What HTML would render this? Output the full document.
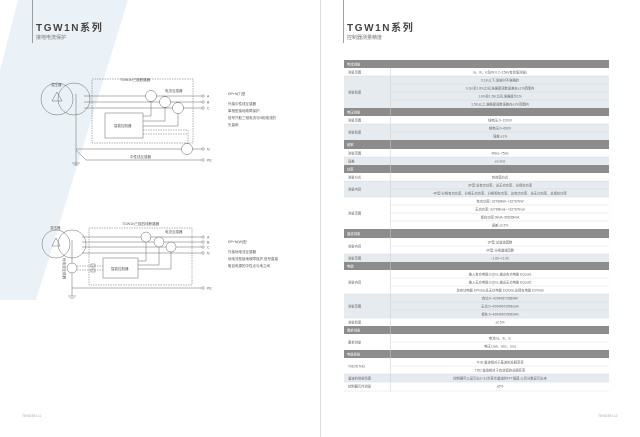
<!DOCTYPE html>
<html><head><meta charset="utf-8"><style>
html,body{margin:0;padding:0;background:#fff}
svg{display:block}
text{font-family:"Liberation Sans","Noto Sans CJK SC",sans-serif}
</style></head><body>
<svg width="640" height="437" viewBox="0 0 640 437" xmlns="http://www.w3.org/2000/svg">
<rect width="640" height="437" fill="#fff"/>
<polygon points="18,0 128,0 36,300 0,300 0,70" fill="#ebf2f7"/>
<line x1="320.5" y1="0" x2="320.5" y2="437" stroke="#ddd" stroke-width="1"/>
<line x1="32.5" y1="0" x2="32.5" y2="43" stroke="#888" stroke-width="0.8"/>
<line x1="343.5" y1="0" x2="343.5" y2="43" stroke="#888" stroke-width="0.8"/>
<text x="36" y="31" font-size="10" font-weight="bold" fill="#444" letter-spacing="1.6">TGW1N系列</text>
<text x="36" y="39" font-size="5" fill="#777">接地电流保护</text>
<text x="347" y="31" font-size="10" font-weight="bold" fill="#444" letter-spacing="1.6">TGW1N系列</text>
<text x="347" y="39" font-size="5" fill="#777">控制器测量精度</text>
<text x="22" y="417" font-size="3.5" fill="#aaa">TENGEN 11</text>
<text x="598" y="417" font-size="3.5" fill="#aaa">TENGEN 12</text>

<g stroke="#666" stroke-width="0.5" fill="none">
<circle cx="57" cy="99" r="16"/><circle cx="74" cy="99" r="16"/>
<polygon points="57,92 52,101 62,101"/>
<line x1="76" y1="94" x2="76" y2="165"/>
<rect x="92" y="79" width="101" height="64" stroke-dasharray="1.5,1"/>
<line x1="84" y1="96" x2="202" y2="96"/><line x1="84" y1="102" x2="202" y2="102"/><line x1="84" y1="108" x2="202" y2="108"/>
<circle cx="151" cy="96" r="5.5" fill="#fff"/><circle cx="165" cy="102" r="5.5" fill="#fff"/><circle cx="178" cy="108" r="5.5" fill="#fff"/>
<rect x="105" y="113" width="38" height="25" fill="#fff"/>
<polyline points="151,101.5 151,116 143,116"/><polyline points="165,107.5 165,121 143,121"/><polyline points="178,113.5 178,126 143,126"/>
<line x1="143" y1="130" x2="188" y2="130" stroke-dasharray="1.5,1"/><line x1="143" y1="134" x2="188" y2="134" stroke-dasharray="1.5,1"/>
<line x1="188" y1="130" x2="188" y2="144" stroke-dasharray="1.5,1"/>
<line x1="76" y1="149" x2="202" y2="149"/>
<circle cx="187" cy="149" r="5.5" fill="#fff"/>
<polyline points="76,150 86,160 202,160"/>
<line x1="72" y1="163" x2="80" y2="163"/><line x1="73.5" y1="165" x2="78.5" y2="165"/>
<circle cx="203" cy="96" r="1.2"/><circle cx="203" cy="102" r="1.2"/><circle cx="203" cy="108" r="1.2"/><circle cx="203" cy="149" r="1.2"/><circle cx="203" cy="160" r="1.2"/>
<circle cx="56" cy="244" r="14"/><circle cx="72" cy="244" r="14"/>
<polygon points="56,238 52,246 60,246"/>
<line x1="72" y1="240" x2="72" y2="296"/>
<rect x="89" y="228" width="103" height="57" stroke-dasharray="1.5,1"/>
<line x1="82" y1="237" x2="202" y2="237"/><line x1="82" y1="242" x2="202" y2="242"/><line x1="82" y1="247" x2="202" y2="247"/><line x1="82" y1="253" x2="202" y2="253"/>
<circle cx="146" cy="237" r="5" fill="#fff"/><circle cx="159" cy="242" r="5" fill="#fff"/><circle cx="171" cy="247" r="5" fill="#fff"/>
<rect x="103" y="258" width="35" height="20" fill="#fff"/>
<polyline points="146,242 146,261 138,261"/><polyline points="159,247 159,265 138,265"/><polyline points="171,252 171,269 138,269"/>
<circle cx="72" cy="268" r="5" fill="#fff"/>
<line x1="77" y1="266" x2="103" y2="266" stroke-dasharray="1.5,1"/><line x1="77" y1="270" x2="103" y2="270" stroke-dasharray="1.5,1"/>
<rect x="91" y="264" width="4" height="3"/><rect x="91" y="269" width="4" height="3"/>
<line x1="72" y1="288" x2="202" y2="288"/>
<line x1="68" y1="296" x2="76" y2="296"/><line x1="69.5" y1="298" x2="74.5" y2="298"/>
<circle cx="203" cy="237" r="1.2"/><circle cx="203" cy="242" r="1.2"/><circle cx="203" cy="247" r="1.2"/><circle cx="203" cy="253" r="1.2"/><circle cx="203" cy="288" r="1.2"/>
</g>
<g font-size="3.5" fill="#555">
<text x="51" y="86">变压器</text><text x="120" y="81">TGW1N三极断路器</text><text x="165" y="92">电流互感器</text>
<text x="114" y="127">智能控制器</text><text x="130" y="158">中性线互感器</text>
<text x="207" y="97.5">A</text><text x="207" y="103.5">B</text><text x="207" y="109.5">C</text><text x="207" y="150.5">N</text><text x="207" y="161.5">PE</text>
<text x="228" y="95">DP+N(T)型</text>
<text x="228" y="105">外接中性线互感器</text><text x="228" y="112">单相型接地故障保护,</text><text x="228" y="119">信号只取三相电流与N相电流的</text><text x="228" y="126">矢量和</text>
<text x="50" y="229">变压器</text><text x="122" y="225">TGW1N三极四线断路器</text><text x="165" y="233">电流互感器</text>
<text x="111" y="270">智能控制器</text>
<text x="207" y="238.5">A</text><text x="207" y="243.5">B</text><text x="207" y="248.5">C</text><text x="207" y="254.5">N</text><text x="207" y="289.5">PE</text>
<text x="228" y="243">DP+N(W)型</text>
<text x="228" y="253">外接地电流互感器</text><text x="228" y="260">地电流型接地故障保护,信号直接</text><text x="228" y="267">取自电源的中性点与地之间</text>
<text x="0" y="0" transform="translate(63,258) rotate(90)">地电流互感器</text>
</g>

<g font-size="3.3" fill="#666">
<g fill="#e6ebf0">
<rect x="344" y="76" width="265" height="32"/><rect x="344" y="124" width="265" height="16"/><rect x="344" y="157" width="265" height="8"/>
<rect x="344" y="181" width="265" height="16"/><rect x="344" y="254" width="265" height="8"/><rect x="344" y="294" width="265" height="24"/>
<rect x="344" y="374" width="265" height="8"/>
</g>
<g fill="#8c8c8c">
<rect x="344" y="60" width="265" height="8"/><rect x="344" y="108" width="265" height="8"/><rect x="344" y="140" width="265" height="9"/>
<rect x="344" y="165" width="265" height="8"/><rect x="344" y="229" width="265" height="9"/><rect x="344" y="262" width="265" height="8"/>
<rect x="344" y="326" width="265" height="8"/><rect x="344" y="350" width="265" height="8"/>
</g>
<line x1="390.5" y1="68" x2="390.5" y2="391" stroke="#ccc" stroke-width="0.5"/>
<g stroke="#cfd6dd" stroke-width="0.4">
<line x1="344" y1="76" x2="609" y2="76"/><line x1="390" y1="84" x2="609" y2="84"/><line x1="390" y1="92" x2="609" y2="92"/><line x1="390" y1="100" x2="609" y2="100"/>
<line x1="344" y1="124" x2="609" y2="124"/><line x1="390" y1="132" x2="609" y2="132"/><line x1="344" y1="157" x2="609" y2="157"/>
<line x1="344" y1="181" x2="609" y2="181"/><line x1="390" y1="189" x2="609" y2="189"/><line x1="344" y1="197" x2="609" y2="197"/>
<line x1="390" y1="205" x2="609" y2="205"/><line x1="390" y1="213" x2="609" y2="213"/><line x1="390" y1="221" x2="609" y2="221"/>
<line x1="390" y1="246" x2="609" y2="246"/><line x1="344" y1="254" x2="609" y2="254"/>
<line x1="390" y1="278" x2="609" y2="278"/><line x1="390" y1="286" x2="609" y2="286"/><line x1="344" y1="294" x2="609" y2="294"/>
<line x1="390" y1="302" x2="609" y2="302"/><line x1="390" y1="310" x2="609" y2="310"/><line x1="344" y1="318" x2="609" y2="318"/>
<line x1="390" y1="342" x2="609" y2="342"/><line x1="390" y1="366" x2="609" y2="366"/><line x1="344" y1="374" x2="609" y2="374"/>
<line x1="344" y1="382" x2="609" y2="382"/><line x1="344" y1="391" x2="609" y2="391"/>
</g>
<g fill="#fff">
<text x="347" y="65.5">电流测量</text><text x="347" y="113.5">电压测量</text><text x="347" y="146">频率</text><text x="347" y="170.5">功率</text>
<text x="347" y="235">谐波测量</text><text x="347" y="267.5">电能</text><text x="347" y="331.5">需求测量</text><text x="347" y="355.5">电能质量</text>
</g>
<text x="348" y="73.5">测量范围</text><text x="348" y="93.5">测量精度</text><text x="348" y="121.5">测量范围</text><text x="348" y="133.5">测量精度</text>
<text x="348" y="154.5">测量范围</text><text x="348" y="162.5">误差</text><text x="348" y="178.5">测量方式</text><text x="348" y="190.5">测量内容</text>
<text x="348" y="214.5">测量范围</text><text x="348" y="247.5">测量内容</text><text x="348" y="259.5">测量范围</text><text x="348" y="283.5">测量内容</text>
<text x="348" y="307.5">测量范围</text><text x="348" y="323.5">测量精度</text><text x="348" y="343.5">要求测量</text><text x="348" y="367.5">THD/DTHD</text>
<text x="348" y="379.5">谐波的测量精度</text><text x="348" y="387.5">控制器元件测量</text>
<g text-anchor="middle">
<text x="500" y="73.5">Ia、Ib、Ic及IN:0.2~15In(有效值测量)</text>
<text x="500" y="81.5">0.1In以下,测量时不准确的</text><text x="500" y="89.5">0.1In至1.6In之间,准确度读数误差在±1%范围内</text>
<text x="500" y="97.5">1.6In至1.5In之间,准确度为1%</text><text x="500" y="105.5">1.5In以上,准确度读数误差在±1%范围内</text>
<text x="500" y="121.5">线电压:0~1200V</text><text x="500" y="129.5">相电压:0~690V</text><text x="500" y="137.5">误差:±1%</text>
<text x="500" y="154.5">45Hz~75Hz</text><text x="500" y="162.5">±0.1Hz</text>
<text x="500" y="178.5">有效值方式</text><text x="500" y="186.5">3P型:总有功功率、总无功功率、总视在功率</text>
<text x="500" y="194.5">4P型:分相有功功率、分相无功功率、分相视在功率、总有功功率、总无功功率、总视在功率</text>
<text x="500" y="202.5">有功功率:-32768kW~+32767kW</text><text x="500" y="210.5">无功功率:-32768kvar~+32767kvar</text>
<text x="500" y="218.5">视在功率:0kVA~65535kVA</text><text x="500" y="226.5">误差:±2.5%</text>
<text x="500" y="243.5">3P型:总谐波因数</text><text x="500" y="251.5">4P型:分相谐波因数</text><text x="500" y="259.5">-1.00~+1.00</text>
<text x="500" y="275.5">输入有功电能 EQin1,输出有功电能 EQout1</text><text x="500" y="283.5">输入无功电能 EQin1,输出无功电能 EQout2</text>
<text x="500" y="291.5">总有功电能 EPtotal,总无功电能 EQtotal,总视在电能 ESTotal</text>
<text x="500" y="299.5">有功:0~4294967295kWh</text><text x="500" y="307.5">无功:0~4294967295kvarh</text><text x="500" y="315.5">视在:0~4294967295kVAh</text>
<text x="500" y="323.5">±2.5%</text><text x="500" y="339.5">电流:Ia、Ib、Ic</text><text x="500" y="347.5">电压:Uab、Ubc、Uca</text>
<text x="500" y="363.5">THD:谐波相对于基波的总畸变率</text><text x="500" y="371.5">TDD:谐波相对于有效值的总畸变率</text>
<text x="500" y="379.5">控制器可以显示出3~31次奇次谐波的FFT幅值,以百分数显示出来</text><text x="500" y="387.5">±5%</text>
</g>
</g>
</svg>
</body></html>
